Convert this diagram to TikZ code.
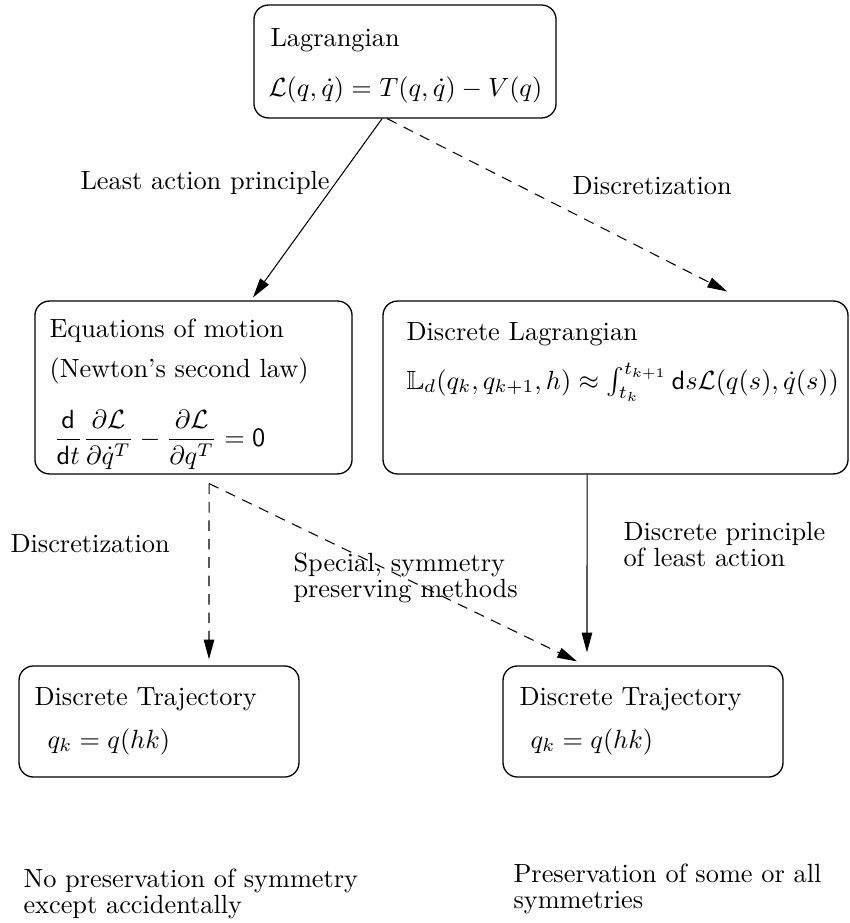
\documentclass[tikz,border=0pt]{standalone}
\usepackage{amsmath,amssymb}
\usetikzlibrary{arrows.meta}

\begin{document}
\begin{tikzpicture}[x=0.38pt,y=-0.38pt,
  blk/.style={draw,rounded corners=5.5pt,line width=0.5pt,inner sep=0pt},
  txt/.style={anchor=base west,inner sep=0pt},
  lbl/.style={anchor=base west,inner sep=0pt,align=left,font=\fontsize{10}{9.8}\selectfont},
  dsh/.style={dash pattern=on 4pt off 3pt},
  >={Triangle[length=7.5pt,width=4pt]}]
\useasboundingbox (0,0) rectangle (849,923);

\node[blk,minimum width=114.8pt,minimum height=42.9pt] (lag) at (405,61.5) {};
\node[blk,minimum width=120.5pt,minimum height=65.7pt] (eom) at (193.5,387.5) {};
\node[blk,minimum width=176.7pt,minimum height=65.7pt] (dl) at (615.5,387.5) {};
\node[blk,minimum width=106.4pt,minimum height=42.2pt] (trl) at (159,721.5) {};
\node[blk,minimum width=106.4pt,minimum height=42.2pt] (trr) at (643,721.5) {};

\node[txt] (lagA) at (270,47) {Lagrangian};
\node[txt] (lagB) at (268,97) {$\mathcal{L}(q,\dot{q})=T(q,\dot{q})-V(q)$};
\node[txt] (eomA) at (49,338) {Equations of motion};
\node[txt] (eomB) at (49,378) {(Newton's second law)};
\node[txt] (eomC) at (53,446) {$\dfrac{\mathsf{d}}{\mathsf{d}t}\dfrac{\partial\mathcal{L}}{\partial\dot{q}^T}-\dfrac{\partial\mathcal{L}}{\partial q^T}=\mathsf{0}$};
\node[txt] (dlA) at (406,341) {Discrete Lagrangian};
\node[txt] (dlB) at (406,389) {$\mathbb{L}_d(q_k,q_{k+1},h)\approx\int_{t_k}^{t_{k+1}}\mathsf{d}s\mathcal{L}(q(s),\dot{q}(s))$};
\node[txt] (trlA) at (34,705) {Discrete Trajectory};
\node[txt] (trlB) at (47,748) {$q_k=q(hk)$};
\node[txt] (trrA) at (519,705) {Discrete Trajectory};
\node[txt] (trrB) at (530,748) {$q_k=q(hk)$};

\node[lbl] (lap) at (80,190) {Least action principle};
\node[lbl] (disR) at (572,195) {Discretization};
\node[lbl] (disL) at (10,552) {Discretization};
\node[lbl] (spec) at (293,597) {Special, symmetry\\preserving methods};
\node[lbl] (dpla) at (623,566) {Discrete principle\\of least action};
\node[lbl] (nopres) at (23,913) {No preservation of symmetry\\except accidentally};
\node[lbl] (pres) at (513,908) {Preservation of some or all\\symmetries};

\path[->]
([xshift=-8.7pt]lag.south) edge ([xshift=22.6pt,yshift=1.1pt]eom.north)
([xshift=-10.8pt]dl.south) edge ([xshift=-21.3pt,yshift=4.9pt]trr.north);
\path[->,dsh]
([xshift=-6.8pt]lag.south) edge ([xshift=42.4pt,yshift=3.4pt]dl.north)
([xshift=5.9pt,yshift=-3.4pt]eom.south) edge ([xshift=19pt,yshift=2.3pt]trl.north)
([xshift=5.9pt,yshift=-3.4pt]eom.south) edge ([xshift=-25.1pt,yshift=1.5pt]trr.north);
\end{tikzpicture}
\end{document}
